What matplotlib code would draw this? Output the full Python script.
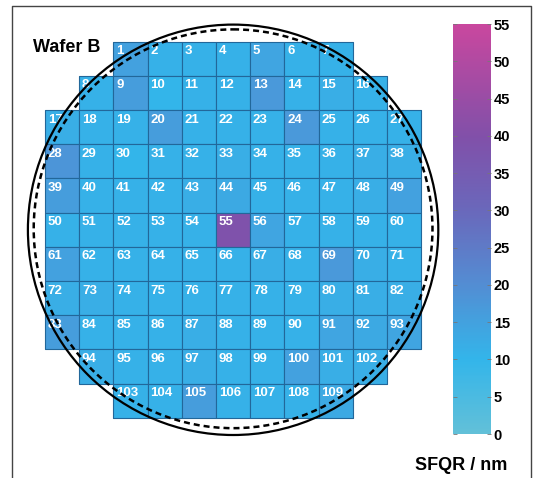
import numpy as np
import matplotlib
matplotlib.use('Agg')
import matplotlib.pyplot as plt
from matplotlib.colors import LinearSegmentedColormap
from matplotlib.patches import Rectangle, Circle
from matplotlib.collections import PatchCollection
from matplotlib.lines import Line2D

plt.rcParams['font.family'] = ['Liberation Sans', 'DejaVu Sans']

# wafer layout: first column index and number of dies in each row
row_first_col = [2, 1, 0, 0, 0, 0, 0, 0, 0, 1, 2]
row_n = [7, 9, 11, 11, 11, 11, 11, 11, 11, 9, 7]

# SFQR per die (nm), dies 1..109
sfqr = [15, 11, 11, 11, 14, 11, 11,
        11, 16, 10, 11, 11, 17, 11, 12, 11,
        12, 11, 11, 16, 11, 11, 11, 17, 11, 11, 11,
        18, 11, 10, 11, 11, 12, 11, 11, 11, 12, 12,
        16, 11, 11, 11, 12, 13, 11, 11, 11, 12, 15,
        11, 11, 11, 11, 11, 39, 14, 11, 11, 11, 11,
        15, 11, 11, 11, 11, 11, 12, 11, 17, 12, 11,
        12, 12, 11, 11, 11, 11, 11, 11, 12, 12, 12,
        16, 11, 11, 11, 12, 11, 11, 11, 14, 13, 14,
        12, 11, 11, 12, 11, 11, 15, 12, 12,
        11, 11, 16, 11, 11, 11, 13]
cbar_ticks = list(range(0, 60, 5))

cmap = LinearSegmentedColormap.from_list('sfqr', [
    (0.0, '#62c0d8'), (10/55, '#33b5ea'), (20/55, '#538dd3'),
    (30/55, '#6a68bb'), (40/55, '#8150a9'), (1.0, '#c9479e')])

W, H = 535, 478
cell = 34.2
fig = plt.figure(figsize=(W/100, H/100), dpi=100)
ax = fig.add_axes([15/W, 1-445/H, 430/W, 430/H])
ax.set_xlim(-30/cell, 400/cell)
ax.set_ylim((445-41.7)/cell, (15-41.7)/cell)
ax.axis('off')

rects = []
k = 0
for r in range(len(row_n)):
    for c in range(row_first_col[r], row_first_col[r] + row_n[r]):
        rects.append(Rectangle((c, r), 1, 1))
        ax.text(c + 0.08, r + 0.1, str(k + 1), ha='left', va='top',
                color='white', fontsize=9.5, fontweight='bold', zorder=2)
        k += 1

coll = PatchCollection(rects, cmap=cmap, edgecolor='#22679a', linewidth=0.8, zorder=1)
coll.set_array(np.array(sfqr))
coll.set_clim(0, 55)
ax.add_collection(coll)

ax.add_patch(Circle((5.5, 5.5), 6.0, fill=False, color='black', lw=1.6, zorder=3))
ax.add_patch(Circle((5.5, 5.47), 5.83, fill=False, color='black', lw=1.8,
                    ls=(0, (2.4, 1.6)), zorder=3))

cax = fig.add_axes([453/W, 1-434/H, 38/W, 410/H])
cb = fig.colorbar(coll, cax=cax, ticks=cbar_ticks)
cb.outline.set_visible(False)
cax.tick_params(direction='in', length=3, width=0.6, color='#777777',
                left=True, right=True, labelsize=10.5, pad=2)
for t in cax.get_yticklabels():
    t.set_fontweight('bold')

fig.text(33/W, 1-52/H, 'Wafer B', fontsize=13, fontweight='bold', va='baseline')
fig.text(507/W, 1-470/H, 'SFQR / nm', fontsize=13, fontweight='bold',
         ha='right', va='baseline')

# frame around the panel
fig.add_artist(Line2D([12/W, 12/W, 531/W, 531/W], [0, 1-6/H, 1-6/H, 0],
                      transform=fig.transFigure, color='#444444', lw=1))

fig.savefig('out.png', dpi=100)
